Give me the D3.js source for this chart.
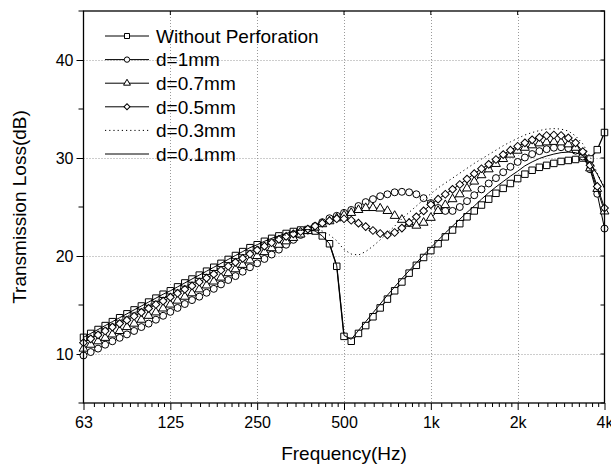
<!DOCTYPE html>
<html>
<head>
<meta charset="utf-8">
<script src="https://cdn.jsdelivr.net/npm/d3@7"></script>
<style>
  html, body { margin: 0; padding: 0; background: #fff; }
  svg { display: block; font-family: "Liberation Sans", Arial, sans-serif; }
</style>
</head>
<body>
<svg id="chart" width="611" height="466"></svg>
<script>
// 1/12-octave analysis frequencies (Hz)
const freqs = [
  62.5, 66.2, 70.2, 74.3, 78.7, 83.4, 88.4, 93.6, 99.2, 105.1, 111.4, 118.0,
  125, 132.4, 140.3, 148.6, 157.5, 166.9, 176.8, 187.3, 198.4, 210.2, 222.7, 236.0,
  250, 264.9, 280.6, 297.3, 315.0, 333.7, 353.6, 374.6, 396.9, 420.4, 445.4, 471.9,
  500, 529.7, 561.2, 594.6, 630.0, 667.4, 707.1, 749.2, 793.7, 840.9, 890.9, 943.9,
  1000, 1059.5, 1122.5, 1189.2, 1259.9, 1334.8, 1414.2, 1498.3, 1587.4, 1681.8, 1781.8, 1887.7,
  2000, 2118.9, 2244.9, 2378.4, 2519.8, 2669.6, 2828.4, 2996.6, 3174.8, 3363.6, 3563.6, 3775.5,
  4000
];

// Transmission loss (dB) for each configuration
const tlNoPerf = [
  11.7, 12.1, 12.5, 12.9, 13.3, 13.7, 14.1, 14.5, 14.9, 15.3, 15.7, 16.1,
  16.45, 16.85, 17.25, 17.65, 18.05, 18.45, 18.85, 19.25, 19.65, 20.05, 20.45, 20.85,
  21.15, 21.5, 21.8, 22.05, 22.3, 22.5, 22.65, 22.7, 22.55, 22.05, 21.25, 18.95,
  11.8, 11.3, 12.1, 12.9, 13.8, 14.7, 15.6, 16.45, 17.35, 18.25, 19.05, 19.85,
  20.55, 21.25, 21.95, 22.65, 23.3, 24.0, 24.6, 25.2, 25.8, 26.4, 26.9, 27.4,
  27.9, 28.35, 28.75, 29.05, 29.25, 29.45, 29.65, 29.75, 29.85, 30.0, 29.9, 30.85,
  32.6
];
const tlD1 = [
  9.85, 10.2, 10.55, 10.95, 11.3, 11.65, 12.0, 12.35, 12.75, 13.1, 13.5, 13.9,
  14.3, 14.7, 15.1, 15.5, 15.85, 16.25, 16.65, 17.1, 17.55, 17.95, 18.4, 18.85,
  19.25, 19.7, 20.15, 20.65, 21.15, 21.65, 22.15, 22.6, 23.05, 23.45, 23.85, 24.1,
  24.4, 24.7, 25.1, 25.5, 25.8, 26.1, 26.3, 26.5, 26.55, 26.5, 26.3, 25.9,
  25.4, 24.9, 24.6, 24.6, 25.0, 25.6, 26.2, 26.8, 27.4, 27.95, 28.55, 29.1,
  29.6, 30.05, 30.4, 30.7, 30.9, 31.05, 31.1, 31.0, 30.75, 30.15, 28.85, 26.35,
  22.8
];
const tlD07 = [
  10.55, 10.95, 11.3, 11.65, 12.0, 12.35, 12.75, 13.1, 13.5, 13.9, 14.25, 14.65,
  15.05, 15.45, 15.85, 16.2, 16.6, 17.0, 17.4, 17.8, 18.25, 18.65, 19.1, 19.55,
  20.0, 20.4, 20.8, 21.15, 21.5, 21.85, 22.2, 22.55, 22.9, 23.25, 23.55, 23.85,
  24.15, 24.4, 24.7, 24.9, 24.9, 24.85, 24.6, 24.1, 23.7, 23.3, 23.1, 23.4,
  23.9, 24.6, 25.2, 25.8, 26.3, 26.9, 27.6, 28.25, 28.85, 29.4, 29.9, 30.35,
  30.75, 31.05, 31.3, 31.5, 31.6, 31.65, 31.6, 31.4, 31.05, 30.35, 28.95, 26.85,
  24.55
];
const tlD05 = [
  11.15, 11.55, 11.95, 12.35, 12.75, 13.1, 13.45, 13.85, 14.25, 14.65, 15.05, 15.4,
  15.8, 16.2, 16.6, 16.95, 17.35, 17.75, 18.15, 18.55, 18.95, 19.35, 19.75, 20.2,
  20.6, 21.0, 21.35, 21.7, 22.0, 22.25, 22.5, 22.75, 23.05, 23.35, 23.6, 23.8,
  23.8, 23.65, 23.35, 23.0, 22.6, 22.3, 22.15, 22.4, 22.85, 23.4, 24.0, 24.6,
  25.25, 25.8, 26.3, 26.8, 27.3, 27.85, 28.4, 28.9, 29.35, 29.85, 30.35, 30.8,
  31.2, 31.55, 31.85, 32.1, 32.3, 32.35, 32.3, 32.05, 31.55, 30.65, 29.25, 27.1,
  24.9
];
const tlD03 = [
  11.45, 11.85, 12.25, 12.6, 13.0, 13.4, 13.8, 14.2, 14.6, 15.0, 15.4, 15.75,
  16.1, 16.5, 16.9, 17.3, 17.7, 18.1, 18.5, 18.9, 19.3, 19.7, 20.1, 20.55,
  20.9, 21.25, 21.6, 21.9, 22.15, 22.4, 22.6, 22.7, 22.7, 22.55, 22.15, 21.55,
  20.65, 20.2, 20.1, 20.45, 21.0, 21.65, 22.35, 23.05, 23.8, 24.45, 25.1, 25.75,
  26.35, 26.95, 27.45, 27.95, 28.45, 28.95, 29.45, 29.9, 30.35, 30.8, 31.25, 31.65,
  32.0, 32.35, 32.6, 32.8, 32.95, 33.0, 32.95, 32.75, 32.25, 31.45, 30.15, 28.45,
  27.05
];
const tlD01 = [
  11.7, 12.1, 12.5, 12.9, 13.3, 13.7, 14.1, 14.5, 14.9, 15.3, 15.7, 16.1,
  16.45, 16.85, 17.25, 17.65, 18.05, 18.45, 18.85, 19.25, 19.65, 20.05, 20.45, 20.85,
  21.15, 21.5, 21.8, 22.05, 22.3, 22.5, 22.65, 22.7, 22.55, 22.05, 21.25, 19.0,
  11.9, 11.5, 12.4, 13.3, 14.2, 15.1, 16.0, 16.85, 17.7, 18.5, 19.3, 20.1,
  20.85, 21.6, 22.35, 23.05, 23.75, 24.45, 25.1, 25.8, 26.45, 27.05, 27.6, 28.15,
  28.65, 29.2, 29.6, 29.95, 30.2, 30.4, 30.55, 30.6, 30.55, 30.25, 29.55, 28.35,
  26.9
];

const seriesNames = ["Without Perforation", "d=1mm", "d=0.7mm", "d=0.5mm", "d=0.3mm", "d=0.1mm"];
const seriesValues = [tlNoPerf, tlD1, tlD07, tlD05, tlD03, tlD01];
const seriesMarkers = ["square", "circle", "triangle", "diamond", null, null];
const seriesDash = [null, null, null, null, "1.2,3", null];

const xTickValues = [62.5, 125, 250, 500, 1000, 2000, 4000];
const xTickLabels = ["63", "125", "250", "500", "1k", "2k", "4k"];
const yTickValues = [10, 20, 30, 40];
const yMinorTicks = [5, 15, 25, 35, 45];

const svg = d3.select("#chart");
const plotL = 83.5, plotR = 604.5, plotT = 11, plotB = 403;

const x = d3.scaleLog().domain([62.5, 4000]).range([plotL, plotR]);
const y = d3.scaleLinear().domain([5, 45]).range([plotB, plotT]);

// grid
const grid = svg.append("g").attr("stroke", "#9a9a9a").attr("stroke-width", 1)
  .attr("stroke-dasharray", "1,2");
xTickValues.slice(1, -1).forEach(v => {
  grid.append("line").attr("x1", Math.round(x(v)) + 0.5).attr("x2", Math.round(x(v)) + 0.5)
    .attr("y1", plotT).attr("y2", plotB);
});
yTickValues.forEach(v => {
  grid.append("line").attr("x1", plotL).attr("x2", plotR)
    .attr("y1", Math.round(y(v)) + 0.5).attr("y2", Math.round(y(v)) + 0.5);
});

// minor frequency ticks: ten per octave
const xMinor = [];
xTickValues.slice(0, -1).forEach(b => {
  for (let j = 1; j <= 10; j++) xMinor.push(b * (1 + j / 11));
});

// bottom axis
const xAxis = d3.axisBottom(x).tickValues(xTickValues)
  .tickFormat((d, i) => xTickLabels[i]).tickSize(7).tickSizeOuter(0);
const gx = svg.append("g").attr("transform", `translate(0,${plotB})`).call(xAxis);
gx.select(".domain").remove();
gx.selectAll("text").attr("font-size", 16).attr("fill", "#000")
  .attr("font-family", "Liberation Sans, Arial, sans-serif").attr("dy", "0.95em");
gx.selectAll(".tick line").attr("stroke", "#000");
svg.append("g").selectAll("line").data(xMinor).join("line")
  .attr("x1", d => x(d)).attr("x2", d => x(d))
  .attr("y1", plotB).attr("y2", plotB + 4).attr("stroke", "#000");

// left axis
const yAxis = d3.axisLeft(y).tickValues(yTickValues).tickSize(7).tickSizeOuter(0);
const gy = svg.append("g").attr("transform", `translate(${plotL},0)`).call(yAxis);
gy.select(".domain").remove();
gy.selectAll("text").attr("font-size", 16).attr("fill", "#000")
  .attr("font-family", "Liberation Sans, Arial, sans-serif").attr("x", -10);
gy.selectAll(".tick line").attr("stroke", "#000");
svg.append("g").selectAll("line").data(yMinorTicks).join("line")
  .attr("x1", plotL - 5).attr("x2", plotL)
  .attr("y1", d => y(d)).attr("y2", d => y(d)).attr("stroke", "#000");

// right side ticks pointing inward
svg.append("g").selectAll("line").data(yTickValues.concat(yMinorTicks)).join("line")
  .attr("x1", plotR - 4).attr("x2", plotR)
  .attr("y1", d => y(d)).attr("y2", d => y(d)).attr("stroke", "#000");
// top ticks pointing inward
svg.append("g").selectAll("line").data(xTickValues).join("line")
  .attr("x1", d => x(d)).attr("x2", d => x(d))
  .attr("y1", plotT).attr("y2", plotT + 4).attr("stroke", "#000");

// series
const line = d3.line().x((d, i) => x(freqs[i])).y(d => y(d));
const symbolSize = { square: 42, circle: 38, triangle: 34, diamond: 30 };
const symbolType = { square: d3.symbolSquare, circle: d3.symbolCircle, triangle: d3.symbolTriangle, diamond: d3.symbolSquare };
const symbolRot = { square: "", circle: "", triangle: "", diamond: " rotate(45)" };

const plot = svg.append("g");
seriesValues.forEach((vals, s) => {
  const g = plot.append("g");
  g.append("path").datum(vals).attr("d", line).attr("fill", "none")
    .attr("stroke", "#000").attr("stroke-width", s === 0 ? 1.3 : 1)
    .attr("stroke-dasharray", seriesDash[s]);
  const m = seriesMarkers[s];
  if (m) {
    const sym = d3.symbol().type(symbolType[m]).size(symbolSize[m]);
    g.selectAll("path.mk").data(vals).join("path").attr("class", "mk")
      .attr("d", sym)
      .attr("transform", (d, i) => `translate(${x(freqs[i])},${y(d)})${symbolRot[m]}`)
      .attr("fill", "#fff").attr("stroke", "#000").attr("stroke-width", 1);
  }
});

// frame
svg.append("rect").attr("x", plotL).attr("y", plotT).attr("width", plotR - plotL).attr("height", plotB - plotT)
  .attr("fill", "none").attr("stroke", "#000").attr("stroke-width", 1.3);

// legend
const leg = svg.append("g");
const legY0 = 36, legDY = 23.6;
seriesNames.forEach((name, s) => {
  const yy = legY0 + s * legDY;
  leg.append("line").attr("x1", 105).attr("x2", 149).attr("y1", yy).attr("y2", yy)
    .attr("stroke", "#000").attr("stroke-width", 1).attr("stroke-dasharray", seriesDash[s]);
  const m = seriesMarkers[s];
  if (m) {
    leg.append("path").attr("d", d3.symbol().type(symbolType[m]).size(symbolSize[m] * 0.6)())
      .attr("transform", `translate(127,${yy})${symbolRot[m]}`)
      .attr("fill", "#fff").attr("stroke", "#000").attr("stroke-width", 1);
  }
  leg.append("text").attr("x", 156).attr("y", yy).attr("dy", "0.36em")
    .attr("font-size", 19).text(name);
});

// axis titles
svg.append("text").attr("x", (plotL + plotR) / 2).attr("y", 460).attr("text-anchor", "middle")
  .attr("font-size", 19).text("Frequency(Hz)");
svg.append("text").attr("transform", `translate(26,${(plotT + plotB) / 2}) rotate(-90)`)
  .attr("text-anchor", "middle").attr("font-size", 19).text("Transmission Loss(dB)");
</script>
</body>
</html>
